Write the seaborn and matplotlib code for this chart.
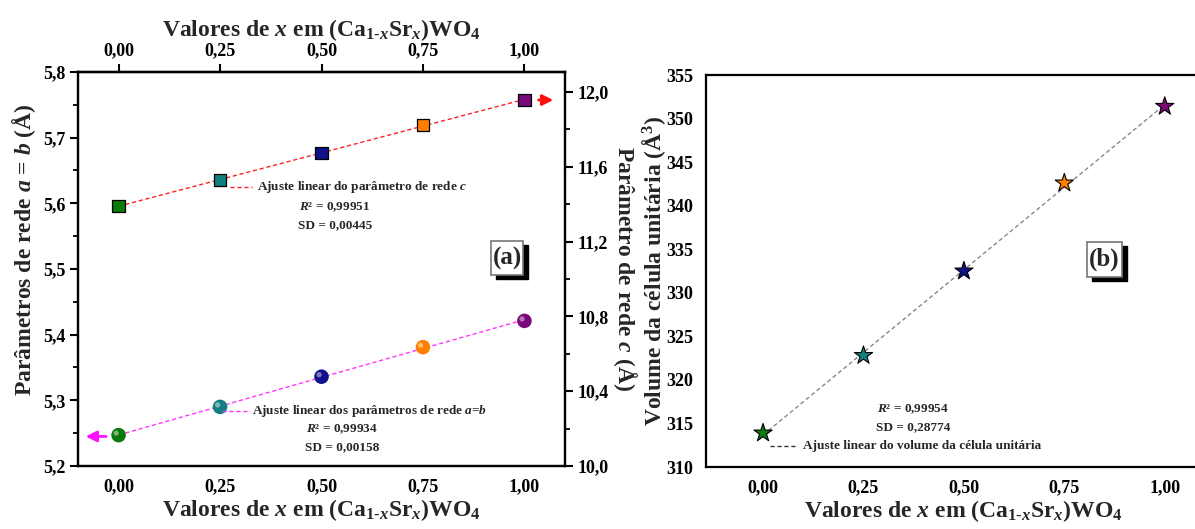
import numpy as np
import pandas as pd
import matplotlib
matplotlib.use("Agg")
import matplotlib.pyplot as plt
from matplotlib.patches import Rectangle
from matplotlib.ticker import FuncFormatter, MultipleLocator
import seaborn as sns

# Composition x in (Ca1-xSrx)WO4
x_vals = [0.00, 0.25, 0.50, 0.75, 1.00]
# Lattice parameters (Å)
a_vals = [5.247, 5.290, 5.336, 5.381, 5.421]
c_vals = [11.390, 11.529, 11.674, 11.824, 11.957]
# Unit cell volume (Å^3)
vol_vals = [313.9, 322.8, 332.5, 342.6, 351.4]

point_colors = ["#0a7a0a", "#128080", "#10108a", "#ff8000", "#7a0a7a"]
x_ticks = [0.00, 0.25, 0.50, 0.75, 1.00]

fit_c = ("Ajuste linear do parâmetro de rede $c$", "0,99951", "0,00445")
fit_a = ("Ajuste linear dos parâmetros de rede $a$=$b$", "0,99934", "0,00158")
fit_v = ("Ajuste linear do volume da célula unitária", "0,99954", "0,28774")

sns.set_theme(style="white")
plt.rcParams["font.family"] = ["Liberation Serif", "DejaVu Serif"]
plt.rcParams["font.weight"] = "bold"
plt.rcParams["axes.labelweight"] = "bold"
plt.rcParams["mathtext.fontset"] = "custom"
plt.rcParams["mathtext.rm"] = "Liberation Serif:bold"
plt.rcParams["mathtext.bf"] = "Liberation Serif:bold"
plt.rcParams["mathtext.it"] = "Liberation Serif:italic:bold"

df = pd.DataFrame({"x": x_vals, "a": a_vals, "c": c_vals, "V": vol_vals,
                   "grp": [str(i) for i in range(len(x_vals))]})
palette = dict(zip(df["grp"], point_colors))

comma = FuncFormatter(lambda v, p: ("%.2f" % v).replace(".", ","))
comma1 = FuncFormatter(lambda v, p: ("%.1f" % v).replace(".", ","))
int_fmt = FuncFormatter(lambda v, p: "%d" % round(v))

fig = plt.figure(figsize=(11.95, 5.29), dpi=100)
W, H = 1195, 529
NOTE_SIZE = 9.5
LABEL_SIZE = 17


def px_axes(l, t, r, b):
    return fig.add_axes([l / W, 1 - b / H, (r - l) / W, (b - t) / H])


def style_axis(ax):
    for s in ax.spines.values():
        s.set_color("black")
        s.set_linewidth(1.6)
    ax.tick_params(direction="out", length=6, width=1.5, colors="black",
                   labelsize=13, pad=3)
    ax.tick_params(which="minor", direction="out", length=3.5, width=1.3,
                   colors="black")
    for lab in ax.get_xticklabels() + ax.get_yticklabels():
        lab.set_fontweight("bold")


def tag(box, label):
    # box: (left, top, right, bottom) in figure pixels; black drop shadow
    l, t, r, b = box
    fig.add_artist(Rectangle(((l + 5) / W, 1 - (b + 4) / H), (r - l) / W,
                             (b - t) / H, transform=fig.transFigure,
                             fc="black", ec="black", zorder=5))
    fig.add_artist(Rectangle((l / W, 1 - b / H), (r - l) / W, (b - t) / H,
                             transform=fig.transFigure, fc="white",
                             ec="#777777", lw=1.2, zorder=6))
    fig.text((l + r) / 2 / W, 1 - (t + b) / 2 / H, label, fontsize=18,
             ha="center", va="center", fontweight="bold", zorder=7)


def fit_note(line_px, text_x, y_line, y_r2, y_sd, cx, info, color):
    fig.add_artist(plt.Line2D([line_px[0] / W, line_px[1] / W],
                              [1 - y_line / H, 1 - y_line / H],
                              color=color, ls=(0, (3, 2)), lw=1.0,
                              transform=fig.transFigure))
    fig.text(text_x / W, 1 - y_line / H, info[0], fontsize=NOTE_SIZE,
             ha="left", va="center", fontweight="bold")
    if y_r2 is not None:
        fig.text(cx / W, 1 - y_r2 / H, "$R$² = " + info[1],
                 fontsize=NOTE_SIZE, ha="center", va="center",
                 fontweight="bold")
        fig.text(cx / W, 1 - y_sd / H, "SD = " + info[2], fontsize=NOTE_SIZE,
                 ha="center", va="center", fontweight="bold")


xlabel_txt = "Valores de $x$ em (Ca$_{1\u2010x}$Sr$_x$)WO$_4$"

# ---------------- panel (a) ----------------
ax = px_axes(78, 72, 565, 466)
axc = ax.twinx()

sns.regplot(data=df, x="x", y="a", ax=ax, scatter=False, ci=None,
            line_kws=dict(color="#ff33ff", ls=(0, (3, 2)), lw=1.0))
sns.scatterplot(data=df, x="x", y="a", hue="grp", palette=palette, ax=ax,
                marker="o", s=110, edgecolor="none", legend=False, zorder=4)
# small highlight on each sphere
ax.scatter(np.array(x_vals) - 0.006, np.array(a_vals) + 0.003, s=14,
           c="white", alpha=0.45, edgecolors="none", zorder=5)

sns.regplot(data=df, x="x", y="c", ax=axc, scatter=False, ci=None,
            line_kws=dict(color="#ff2020", ls=(0, (3, 2)), lw=1.0))
sns.scatterplot(data=df, x="x", y="c", hue="grp", palette=palette, ax=axc,
                marker="s", s=85, edgecolor="black", linewidth=0.9,
                legend=False, zorder=4)

ax.set_xlim(-0.1, 1.1)
ax.set_ylim(5.2, 5.8)
axc.set_ylim(10.0, 12.107)
ax.set_xticks(x_ticks)
ax.xaxis.set_major_formatter(comma)
ax.yaxis.set_major_locator(MultipleLocator(0.1))
ax.yaxis.set_minor_locator(MultipleLocator(0.05))
ax.yaxis.set_major_formatter(comma1)
axc.yaxis.set_major_locator(MultipleLocator(0.4))
axc.yaxis.set_minor_locator(MultipleLocator(0.2))
axc.yaxis.set_major_formatter(comma1)

ax.set_xlabel(xlabel_txt, fontsize=LABEL_SIZE, labelpad=1)
ax.set_ylabel("Parâmetros de rede $a$ = $b$ (Å)", fontsize=LABEL_SIZE)
ax.yaxis.set_label_coords(-0.083, 0.55)
axc.set_ylabel("Parâmetro de rede $c$ (Å)", fontsize=LABEL_SIZE,
               rotation=270, labelpad=22)

top = ax.secondary_xaxis("top")
top.set_xticks(x_ticks)
top.xaxis.set_major_formatter(comma)
top.set_xlabel(xlabel_txt, fontsize=LABEL_SIZE, labelpad=5)
style_axis(top)
style_axis(ax)
style_axis(axc)
ax.grid(False)
axc.grid(False)

# arrows pointing at each axis
axc.annotate("", xy=(1.078, c_vals[-1]), xytext=(1.028, c_vals[-1]),
             arrowprops=dict(arrowstyle="-|>", color="#ff1010", lw=2,
                             mutation_scale=16))
ax.annotate("", xy=(-0.088, a_vals[0] - 0.002),
            xytext=(-0.024, a_vals[0] - 0.002),
            arrowprops=dict(arrowstyle="-|>", color="#ff10ff", lw=2,
                            mutation_scale=16))

fit_note((230, 252), 257, 187, 207, 225, 335, fit_c, "#ff2020")
fit_note((222, 250), 252, 411, 429, 447, 342, fit_a, "#ff33ff")

tag((491, 241, 523, 275), "(a)")

# ---------------- panel (b) ----------------
bx = px_axes(706, 75, 1221, 467)
sns.regplot(data=df, x="x", y="V", ax=bx, scatter=False, ci=None,
            line_kws=dict(color="#888888", ls=(0, (3, 2)), lw=1.0))
sns.scatterplot(data=df, x="x", y="V", hue="grp", palette=palette, ax=bx,
                marker="*", s=190, edgecolor="black", linewidth=0.8,
                legend=False, zorder=4)
bx.set_xlim(-0.142, 1.14)
bx.set_ylim(310, 355)
bx.set_xticks(x_ticks)
bx.xaxis.set_major_formatter(comma)
bx.yaxis.set_major_locator(MultipleLocator(5))
bx.yaxis.set_minor_locator(MultipleLocator(2.5))
bx.yaxis.set_major_formatter(int_fmt)
bx.set_xlabel(xlabel_txt, fontsize=LABEL_SIZE, labelpad=1)
bx.set_ylabel("Volume da célula unitária (Å$^3$)", fontsize=LABEL_SIZE,
              labelpad=-1)
style_axis(bx)
bx.grid(False)

fig.text(913 / W, 1 - 409 / H, "$R$² = " + fit_v[1], fontsize=NOTE_SIZE,
         ha="center", va="center", fontweight="bold")
fig.text(913 / W, 1 - 427 / H, "SD = " + fit_v[2], fontsize=NOTE_SIZE,
         ha="center", va="center", fontweight="bold")
fit_note((770, 795), 803, 446, None, None, 0, fit_v, "#333333")

tag((1087, 242, 1122, 277), "(b)")

fig.savefig("out.png", dpi=100)
